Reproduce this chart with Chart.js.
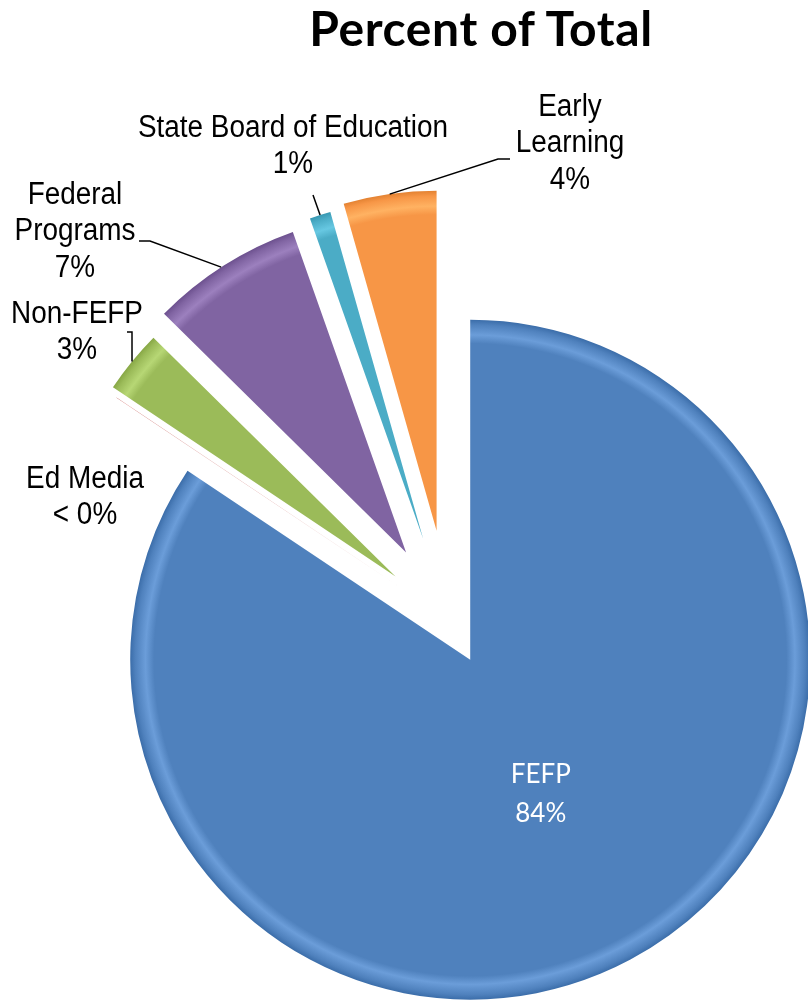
<!DOCTYPE html>
<html lang="en">
<head>
<meta charset="UTF-8">
<title>Percent of Total</title>
<script src="https://cdn.jsdelivr.net/npm/chart.js"></script>
<style>
  body { margin: 0; background: #fff; }
  #wrap { position: relative; width: 808px; height: 1001px; }
  #title { position: absolute; left: 280px; width: 402px; top: -1px; margin: 0;
           text-align: center; font: bold 48px Lato, 'Open Sans', sans-serif;
           letter-spacing: 0.6px; color: #000; }
</style>
</head>
<body>
<div id="wrap">
  <h1 id="title">Percent of Total</h1>
  <canvas id="pieChart" width="808" height="1001"></canvas>
</div>
<script>
// slices, clockwise from 12 o'clock
const categories = ['FEFP', 'Ed Media', 'Non-FEFP', 'Federal Programs', 'State Board of Education', 'Early Learning'];
const shares = [84.3, 0.01, 3.0, 7.2, 1.0, 4.4];
const shareLabels = ['84%', '< 0%', '3%', '7%', '1%', '4%'];
const colors = ['#4F81BD', '#C0504D', '#9BBB59', '#8064A2', '#4BACC6', '#F79646'];

// how far each slice is pulled out from the centre (px)
const explode = [45, 60, 69, 80, 85, 90];

// label text: name lines + percent
const nameLines = [
  ['FEFP'],
  ['Ed Media'],
  ['Non-FEFP'],
  ['Federal', 'Programs'],
  ['State Board of Education'],
  ['Early', 'Learning']
];

// outside labels (centre of first line) and leader lines
const labelPos = [null, [85, 479], [77, 314], [75, 195], [293, 128], [570, 107]];
const leaders = [
  { index: 2, at: 0.5, path: [[132, 332], [127, 332]] },
  { index: 3, at: 0.48, path: [[150, 241], [139, 241]] },
  { index: 4, at: 0.5, path: [[313, 195]] },
  { index: 5, at: 0.5, path: [[498, 159], [510, 159]] }
];

function shade(hex, amt) {
  const n = parseInt(hex.slice(1), 16);
  const c = [n >> 16, (n >> 8) & 255, n & 255].map(v => Math.max(0, Math.min(255, Math.round(v + amt))));
  return 'rgb(' + c.join(',') + ')';
}

// soft bevel along the rim
function bevel(context) {
  const chart = context.chart;
  const area = chart.chartArea;
  if (!area) return colors[context.dataIndex];
  const base = colors[context.dataIndex];
  const cx = (area.left + area.right) / 2, cy = (area.top + area.bottom) / 2;
  const g = chart.ctx.createRadialGradient(cx, cy, 0, cx, cy, chart.options.radius);
  g.addColorStop(0, base);
  g.addColorStop(0.93, base);
  g.addColorStop(0.955, shade(base, 28));
  g.addColorStop(0.985, base);
  g.addColorStop(1, shade(base, -20));
  return g;
}

function midAngle(arc) {
  return (arc.startAngle + arc.endAngle) / 2;
}

// point on the outer rim of a pulled-out slice
function rimPoint(arc, i, f) {
  const mid = midAngle(arc);
  const a = arc.startAngle + f * (arc.endAngle - arc.startAngle);
  return {
    x: arc.x + Math.cos(mid) * explode[i] + Math.cos(a) * arc.outerRadius,
    y: arc.y + Math.sin(mid) * explode[i] + Math.sin(a) * arc.outerRadius
  };
}

function drawText(ctx, t, x, y) {
  ctx.save();
  ctx.translate(x, y);
  ctx.scale(0.9, 1);
  ctx.fillText(t, 0, 0);
  ctx.restore();
}

// draws every slice shifted along its middle angle
const explodedSlices = {
  id: 'explodedSlices',
  beforeDatasetDraw(chart, args) {
    const ctx = chart.ctx;
    args.meta.data.forEach((arc, i) => {
      const mid = midAngle(arc);
      ctx.save();
      ctx.translate(Math.cos(mid) * explode[i], Math.sin(mid) * explode[i]);
      arc.draw(ctx, chart.chartArea);
      ctx.restore();
    });
    return false;
  }
};

const sliceLabels = {
  id: 'sliceLabels',
  afterDatasetsDraw(chart) {
    const ctx = chart.ctx;
    const arcs = chart.getDatasetMeta(0).data;
    ctx.save();
    ctx.strokeStyle = '#000';
    ctx.lineWidth = 1.5;
    leaders.forEach(l => {
      const p = rimPoint(arcs[l.index], l.index, l.at);
      ctx.beginPath();
      ctx.moveTo(p.x, p.y);
      l.path.forEach(q => ctx.lineTo(q[0], q[1]));
      ctx.stroke();
    });

    ctx.textAlign = 'center';
    ctx.textBaseline = 'middle';
    ctx.fillStyle = '#000';
    ctx.font = "31px 'Liberation Sans', Arial, sans-serif";
    nameLines.forEach((lines, i) => {
      if (!labelPos[i]) return;
      lines.concat(shareLabels[i]).forEach((t, k) => drawText(ctx, t, labelPos[i][0], labelPos[i][1] + k * 36.5));
    });

    // FEFP label inside its slice, along the middle angle
    const big = arcs[0];
    const mid = midAngle(big);
    const d = explode[0] + big.outerRadius * 0.44;
    const cx = big.x + Math.cos(mid) * d, cy = big.y + Math.sin(mid) * d;
    ctx.fillStyle = '#fff';
    ctx.font = "26px Lato, 'Open Sans', sans-serif";
    nameLines[0].concat(shareLabels[0]).forEach((t, k) => ctx.fillText(t, cx, cy - 17 + k * 39));
    ctx.restore();
  }
};

new Chart(document.getElementById('pieChart'), {
  type: 'pie',
  data: {
    labels: categories,
    datasets: [{
      data: shares,
      backgroundColor: bevel,
      borderWidth: 0
    }]
  },
  options: {
    responsive: false,
    animation: false,
    radius: 340,
    layout: { padding: { left: 90, right: 0, top: 239, bottom: 0 } },
    plugins: { legend: { display: false }, tooltip: { enabled: false } }
  },
  plugins: [explodedSlices, sliceLabels]
});
</script>
</body>
</html>
